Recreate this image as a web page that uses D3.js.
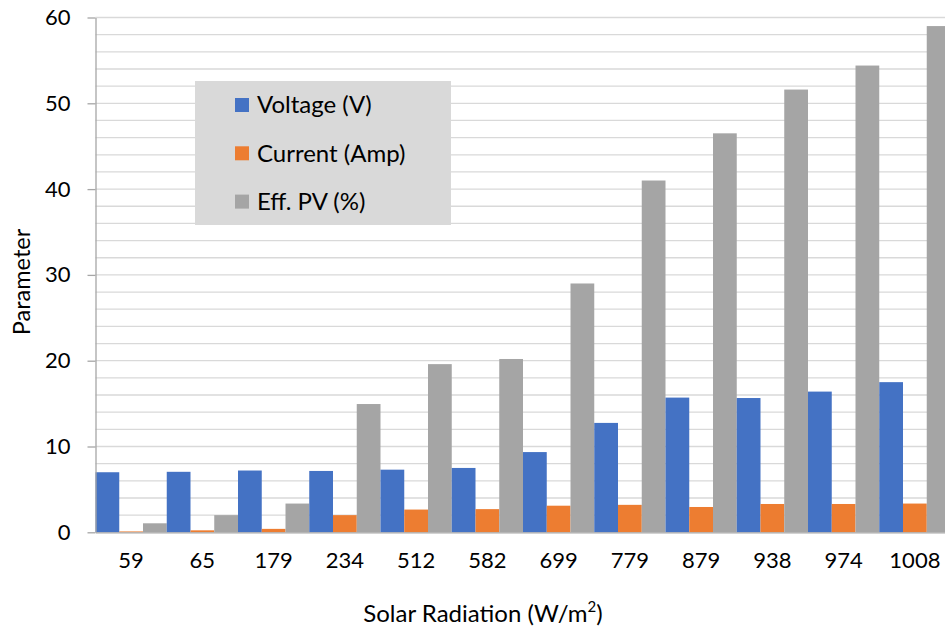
<!DOCTYPE html>
<html>
<head>
<meta charset="utf-8">
<script src="https://cdn.jsdelivr.net/npm/d3@7"></script>
<style>
  html, body { margin: 0; padding: 0; background: #fff; }
  svg { display: block; font-family: Lato, "Open Sans", sans-serif; }
</style>
</head>
<body>
<svg id="chart" width="945" height="632"></svg>
<script>
// Solar radiation levels (W/m²) on the x axis
const radiation = ["59", "65", "179", "234", "512", "582", "699", "779", "879", "938", "974", "1008"];

// Measured parameters per radiation level
const voltage = [7.0, 7.05, 7.2, 7.15, 7.3, 7.5, 9.35, 12.75, 15.7, 15.65, 16.4, 17.5];
const current = [0.1, 0.23, 0.4, 2.0, 2.65, 2.7, 3.1, 3.2, 2.95, 3.3, 3.3, 3.35];
const efficiency = [1.05, 2.0, 3.35, 14.95, 19.6, 20.2, 29.0, 41.0, 46.5, 51.6, 54.4, 59.0];

const seriesNames = ["Voltage (V)", "Current (Amp)", "Eff. PV (%)"];
const seriesColors = ["#4472C4", "#ED7D31", "#A5A5A5"];
const yTicks = [0, 10, 20, 30, 40, 50, 60];

const series = [voltage, current, efficiency];

const svg = d3.select("#chart");
const plot = { left: 95.5, right: 950.5, top: 17.5, bottom: 532.3 };

const x = d3.scaleBand().domain(radiation).range([plot.left, plot.right]).padding(0);
const xInner = d3.scaleBand().domain(d3.range(series.length)).range([0, x.bandwidth()]).padding(0);
const y = d3.scaleLinear().domain([0, 60]).range([plot.bottom, plot.top]);

// Horizontal gridlines every 2 units
svg.append("g")
  .selectAll("line")
  .data(d3.range(2, 61, 2))
  .join("line")
  .attr("x1", plot.left).attr("x2", plot.right)
  .attr("y1", d => y(d)).attr("y2", d => y(d))
  .attr("stroke", "#d9d9d9").attr("stroke-width", 1.3);

// Bars
const groups = svg.append("g")
  .selectAll("g")
  .data(radiation)
  .join("g")
  .attr("transform", d => `translate(${x(d)},0)`);

groups.selectAll("rect")
  .data((d, i) => series.map((s, k) => ({ k, v: s[i] })))
  .join("rect")
  .attr("x", d => xInner(d.k))
  .attr("width", xInner.bandwidth())
  .attr("y", d => y(d.v))
  .attr("height", d => y(0) - y(d.v))
  .attr("fill", d => seriesColors[d.k]);

// Y axis
const yAxis = svg.append("g")
  .attr("transform", `translate(${plot.left},0)`)
  .call(d3.axisLeft(y).tickValues(yTicks).tickSize(8).tickPadding(17).tickSizeOuter(0));
yAxis.select(".domain").attr("stroke", "#a6a6a6").attr("stroke-width", 1.3);
yAxis.selectAll(".tick line").attr("stroke", "#a6a6a6").attr("stroke-width", 1.3);
yAxis.selectAll(".tick text").attr("font-size", 22).attr("fill", "#000")
  .attr("font-family", "Lato, sans-serif");

// X axis
const xAxis = svg.append("g")
  .attr("transform", `translate(0,${plot.bottom})`)
  .call(d3.axisBottom(x).tickSize(0).tickPadding(20).tickSizeOuter(0));
xAxis.select(".domain").attr("stroke", "#a6a6a6").attr("stroke-width", 1.3);
xAxis.selectAll(".tick text").attr("font-size", 22).attr("fill", "#000")
  .attr("font-family", "Lato, sans-serif");

// Axis titles
const xTitle = svg.append("text")
  .attr("x", 483).attr("y", 622)
  .attr("text-anchor", "middle")
  .attr("font-size", 24).attr("fill", "#000");
xTitle.append("tspan").text("Solar Radiation (W/m");
xTitle.append("tspan").text("2").attr("font-size", 15).attr("dy", -10);
xTitle.append("tspan").text(")").attr("dy", 10);

svg.append("text")
  .attr("transform", "translate(30,282) rotate(-90)")
  .attr("text-anchor", "middle")
  .attr("font-size", 23.5).attr("fill", "#000")
  .text("Parameter");

// Legend
const legend = svg.append("g");
legend.append("rect")
  .attr("x", 195).attr("y", 81).attr("width", 256).attr("height", 144)
  .attr("fill", "#d9d9d9");
const items = legend.selectAll("g.item")
  .data(seriesNames)
  .join("g")
  .attr("class", "item")
  .attr("transform", (d, i) => `translate(235,${105 + i * 48.3})`);
items.append("rect")
  .attr("x", 0).attr("y", -7).attr("width", 14).attr("height", 14)
  .attr("fill", (d, i) => seriesColors[i]);
items.append("text")
  .attr("x", 22).attr("y", 0).attr("dy", "0.35em")
  .attr("font-size", 24).attr("fill", "#000")
  .text(d => d);
</script>
</body>
</html>
